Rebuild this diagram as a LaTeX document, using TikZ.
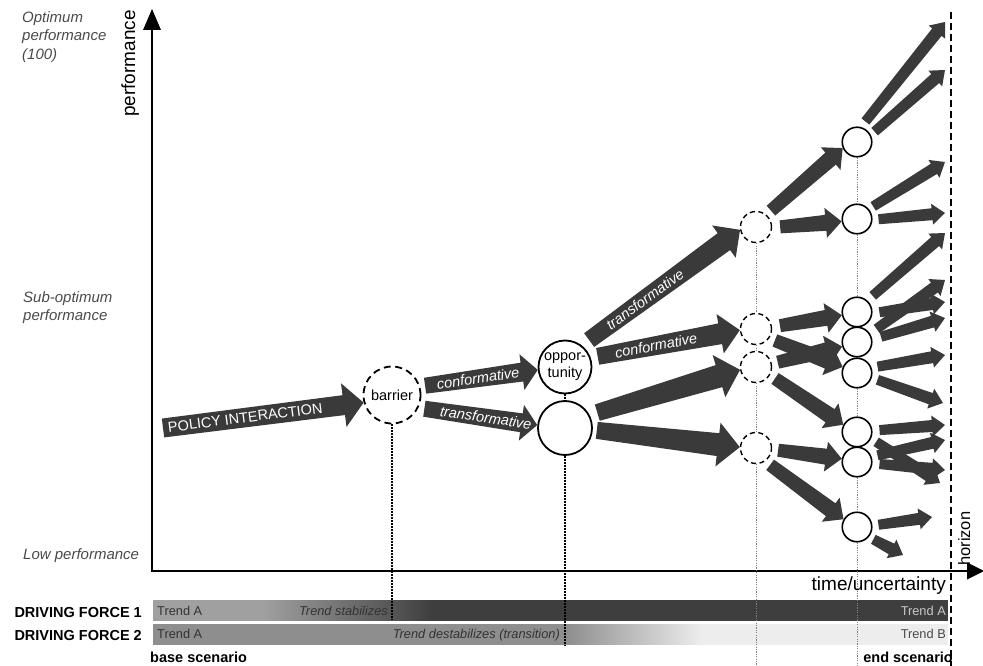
\documentclass[tikz,border=0pt]{standalone}
\usepackage{fontspec}
\setmainfont{Liberation Sans}
\usetikzlibrary{arrows.meta,calc}
\definecolor{Flow}{HTML}{3A3A3A}
\definecolor{Note}{HTML}{4A4A4A}
\definecolor{BarLight}{HTML}{A0A0A0}
\definecolor{BarDark}{HTML}{3E3E3E}
\definecolor{BarGrey}{HTML}{8E8E8E}
\definecolor{BarPale}{HTML}{EDEDED}
\definecolor{BarInk}{HTML}{333333}
% tapered block arrow: from, to, gap, tail width, neck width, head width, head length
\newcommand{\flowarrow}[7]{%
  \coordinate (fs) at ($(#1)!#3!(#2)$);
  \coordinate (fe) at (#2);
  \coordinate (fn) at ($(fe)!#7!(fs)$);
  \fill[flow] ($(fs)!#4/2!90:(fe)$) -- ($(fn)!#5/2!-90:(fs)$) -- ($(fn)!#6/2!-90:(fs)$) -- (fe)
    -- ($(fn)!#6/2!90:(fs)$) -- ($(fn)!#5/2!90:(fs)$) -- ($(fs)!#4/2!-90:(fe)$) -- cycle;}
\tikzset{
  flow/.style={fill=Flow},
  lab/.style={text=white,inner sep=0pt,sloped,font=\fontsize{14.5}{16}\selectfont\itshape},
  gate/.style={circle,draw=black,fill=white,line width=1.8pt,dash pattern=on 7pt off 4.5pt,inner sep=0pt,font=\fontsize{14.5}{16}\selectfont},
  minor/.style={minimum size=31pt,line width=1.4pt,dash pattern=on 5pt off 3.5pt},
  chance/.style={circle,draw=black,fill=white,line width=1.8pt,inner sep=0pt,align=center,font=\fontsize{14.5}{17}\selectfont},
  guide/.style={line width=1.8pt,dash pattern=on 1.6pt off 1.4pt},
  fine/.style={draw=gray,line width=0.7pt,dash pattern=on 1.2pt off 1.2pt},
  level/.style={text=Note,inner sep=0pt,align=left,font=\fontsize{15}{18.5}\selectfont\itshape},
  force/.style={inner sep=0pt,font=\fontsize{14.5}{17}\selectfont\bfseries},
  bartxt/.style={inner sep=0pt,text=BarInk,font=\fontsize{12.8}{15}\selectfont},
  axistitle/.style={inner sep=0pt,font=\fontsize{19}{22}\selectfont},
  axis/.style={line width=2.4pt,{Triangle[length=21pt,width=18pt,line width=0pt]}-{Triangle[length=17pt,width=17pt,line width=0pt]}},
  horizonline/.style={line width=2.4pt,dash pattern=on 7pt off 4pt},
}
\begin{document}
\begin{tikzpicture}[x=1pt,y=-1pt,line join=miter]
\useasboundingbox (0,0) rectangle (983,666);
% driving force bars
\fill[BarLight] (153,600) rectangle (264,621);
\foreach \i [evaluate=\i as \p using \i/1.7] in {0,...,170}
  \fill[BarDark!\p!BarLight] (263+\i,600) rectangle (264.3+\i,621);
\fill[BarDark] (433,600) rectangle (948,621);
\fill[BarGrey] (153,624) rectangle (567,645);
\foreach \i [evaluate=\i as \p using \i/1.36] in {0,...,136}
  \fill[BarPale!\p!BarGrey] (566+\i,624) rectangle (567.3+\i,645);
\fill[BarPale] (702,624) rectangle (948,645);
\node[bartxt,anchor=base west] (trA1) at (157,615) {Trend A};
\node[bartxt,anchor=base east,font=\fontsize{12.8}{15}\selectfont\itshape] (stab) at (388,615) {Trend stabilizes};
\node[bartxt,anchor=base east,text=BarPale!85!black] (trA1e) at (946,615) {Trend A};
\node[bartxt,anchor=base west] (trA2) at (157,638) {Trend A};
\node[bartxt,anchor=base east,font=\fontsize{12.8}{15}\selectfont\itshape] (destab) at (560,638) {Trend destabilizes (transition)};
\node[bartxt,anchor=base east,text=Note] (trB2) at (946,638) {Trend B};
\node[force,anchor=base east] (df1) at (142,617) {DRIVING FORCE 1};
\node[force,anchor=base east] (df2) at (142,640) {DRIVING FORCE 2};
\node[force,anchor=base west] (base) at (150,662) {base scenario};
\node[force,anchor=base east] (endsc) at (953,662) {end scenario};

% axes and horizon
\coordinate (ytop) at (152,9);
\coordinate (origin) at (152,571);
\coordinate (xend) at (984,571);
\draw[axis] (ytop) -- (origin) -- (xend);
\coordinate (htop) at (951,12);
\coordinate (bottom) at (0,666);
\draw[horizonline] (htop) -- (htop |- bottom);
\node[axistitle,rotate=90,anchor=base west] (perfaxis) at (135,117) {performance};
\node[axistitle,anchor=base east] (timeaxis) at (946,590) {time/uncertainty};
\node[inner sep=0pt,rotate=90,anchor=base west,font=\fontsize{16.5}{19}\selectfont] (horizon) at (970,566) {horizon};
\node[level,anchor=north west] (optimum) at (22,11) {Optimum\\performance\\(100)};
\node[level,anchor=north west] (subopt) at (23,291) {Sub-optimum\\performance};
\node[level,anchor=base west] (lowperf) at (23,559) {Low performance};

% decision points
\node[gate,minimum size=57pt] (barrier) at (392,395) {barrier};
\node[chance,minimum size=53pt] (opp) at (565,367) {oppor-\\tunity};
\node[chance,minimum size=54pt] (low) at (565,428) {};
\foreach \n/\y in {1/227,2/329,3/367,4/448}
  \node[gate,minor] (d\n) at (756,\y) {};
\foreach \n/\y in {1/142,2/219,3/312,4/342,5/373,6/432,7/462,8/527}
  \node[chance,minimum size=29.5pt,line width=1.6pt] (s\n) at (857,\y) {};

% guide lines
\coordinate (bar1low) at (0,620);
\coordinate (bar2low) at (0,645);
\draw[guide] (barrier.south) -- (barrier.south |- bar1low);
\draw[guide] (opp.south) -- (low.north);
\draw[guide] (low.south) -- (low.south |- bar2low);
\foreach \a/\b in {d1/d2,d2/d3,d3/d4,s1/s2,s2/s3,s5/s6,s7/s8}
  \draw[fine] (\a.south) -- (\b.north);
\draw[fine] (d4.south) -- (d4 |- bottom);
\draw[fine] (s8.south) -- (s8 |- bottom);

% flows
\coordinate (polstart) at (163,428);
\flowarrow{polstart}{barrier.195}{0pt}{19pt}{20pt}{44pt}{20pt}
\path (fs) -- (fe) node[lab,pos=.41,font=\fontsize{14.5}{16}\selectfont] {POLICY INTERACTION};
\flowarrow{barrier.17}{opp.186}{5pt}{16pt}{19pt}{36pt}{16pt}
\path (fs) -- (fe) node[lab,pos=.47] {conformative};
\flowarrow{barrier.-26}{low.174}{6pt}{16pt}{19pt}{36pt}{16pt}
\path (fs) -- (fe) node[lab,pos=.545] {transformative};
\flowarrow{opp.52}{d1.190}{9pt}{17pt}{21pt}{40pt}{20pt}
\path (fs) -- (fe) node[lab,pos=.37] {transformative};
\flowarrow{opp.20}{d2.184}{7pt}{17pt}{21pt}{40pt}{20pt}
\path (fs) -- (fe) node[lab,pos=.41] {conformative};
\flowarrow{low.28}{d3.190}{8pt}{17pt}{23pt}{44pt}{22pt}
\flowarrow{low.-4}{d4.177}{4pt}{17pt}{23pt}{44pt}{22pt}
% third branching
\foreach \a/\b/\g in {d1.50/s1.203/6pt,d1.-2/s2.189/8pt,d2.7/s3.192/8pt,d2.-35/s5.157/6pt,
    d3.12/s4.197/6pt,d3.-30/s6.152/6pt,d4.-5/s7.168/6pt,d4.-55/s8.150/6pt}
  \flowarrow{\a}{\b}{\g}{13pt}{16pt}{30pt}{16pt};
% towards the horizon
\coordinate (t1) at (945,22);  \coordinate (t2) at (945,70);
\coordinate (t3) at (945,162); \coordinate (t4) at (945,213);
\coordinate (t5) at (945,233); \coordinate (t6) at (945,280);
\coordinate (t7) at (945,302); \coordinate (t8) at (945,318);
\coordinate (t9) at (945,355); \coordinate (t10) at (943,403);
\coordinate (t11) at (945,425); \coordinate (t12) at (945,440);
\coordinate (t13) at (945,470); \coordinate (t14) at (940,483);
\coordinate (t15) at (932,517); \coordinate (t16) at (903,555);
\foreach \a/\b/\g in {s1.75/t1/7pt,s1.27/t2/5pt,s2.40/t3/5pt,s2.-3/t4/6pt,s3.48/t5/7pt,
    s3.-5/t7/7pt,s4.33/t6/8pt,s4.10/t8/9pt,s5.20/t9/6pt,s5.-18/t10/6pt,s6.5/t11/7pt,
    s6.-25/t14/6pt,s7.20/t12/6pt,s7.-5/t13/7pt,s8.5/t15/6pt,s8.-40/t16/5pt}
  \flowarrow{\a}{\b}{\g}{10pt}{12pt}{21pt}{13pt};
\end{tikzpicture}
\end{document}
